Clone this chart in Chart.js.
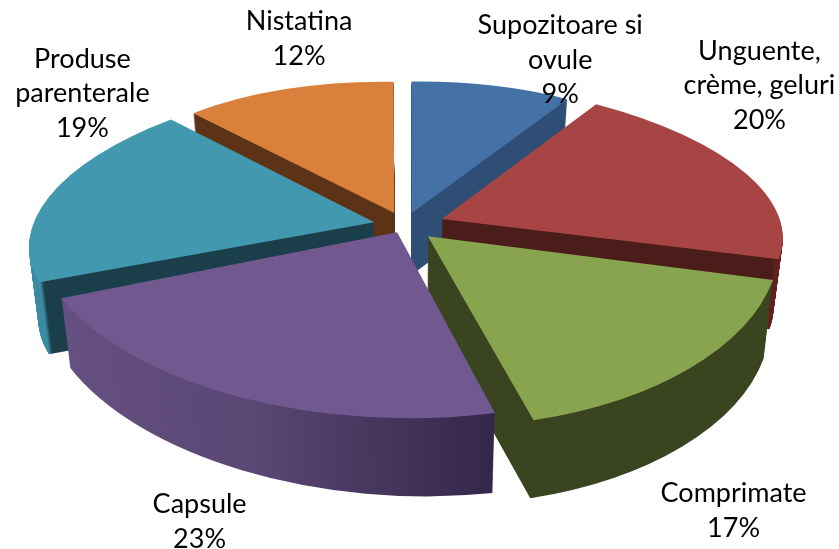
<!DOCTYPE html>
<html>
<head>
<meta charset="utf-8">
<style>
  html, body { margin: 0; background: #fff; }
  canvas { display: block; }
</style>
<script src="https://cdn.jsdelivr.net/npm/chart.js@4"></script>
</head>
<body>
<canvas id="myChart" width="839" height="549"></canvas>
<script>
const categories = [['Supozitoare si', 'ovule'], ['Unguente,', 'crème, geluri'], ['Comprimate'], ['Capsule'], ['Produse', 'parenterale'], ['Nistatina']]
const percents = [9, 20, 17, 23, 19, 12]

// Chart.js moves an arc by offset / 4
const explode = [112, 148, 108, 56, 112, 116]
const topColors = ['#4472a6', '#a64543', '#88a44f', '#71588f', '#4198af', '#d9803c']
const wallStops = [
  [[0, '#2f4e75'], [1, '#2f4e75']],
  [[0, '#4a1c1a'], [0.98, '#4a1c1a'], [0.985, '#651f1f'], [1, '#651f1f']],
  [[0, '#38421f'], [1, '#3a4520']],
  [[0, '#675184'], [0.3, '#594672'], [0.625, '#33274a'], [1, '#33274a']],
  [[0, '#3a8aa3'], [0.032, '#3a8aa3'], [0.037, '#1a3f4a'], [1, '#1a3f4a']],
  [[0, '#5c3317'], [1, '#5c3317']],
]

// per slice tilt, a fake of the perspective in the 3D original: scaleX, skewY, skewX, scaleY
const tilts = [
  [0.95, -0.015, 0.007, 0.42],
  [1.125, 0.02, 0.109, 0.463],
  [1.16, -0.014, 0.06, 0.63],
  [1.213, 0.009, 0.025, 0.62],
  [1.135, -0.022, -0.143, 0.487],
  [0.958, 0.017, -0.002, 0.424],
]
const depths = [62, 70, 78, 78, 72, 60]
// extra skewY reached at the bottom of the wall, the side walls get shorter away from the viewer
const wallTilts = [0, 0, 0, 0.03, 0, 0]
const drawOrder = [0, 5, 1, 4, 2, 3]
const labelNudges = [[71, -31], [16, -88], [47, 144], [-39, 125], [31, -103], [10, -54]]
const lineHeight = 34.5

function drawSlice(ctx, arc, i, drop, color) {
  const [sx, skY, skX, sy] = tilts[i]
  const t = drop / depths[i]
  const narrow = 1 - 0.025 * t
  const saved = arc.options
  arc.options = { ...saved, backgroundColor: color }
  ctx.save()
  ctx.translate(arc.x, arc.y + drop)
  ctx.transform(sx * narrow, skY + wallTilts[i] * t, skX * narrow, sy, 0, 0)
  ctx.translate(-arc.x, -arc.y)
  arc.draw(ctx)
  ctx.restore()
  arc.options = saved
}

const pie3d = {
  id: 'pie3d',
  beforeDatasetsDraw(chart) {
    const ctx = chart.ctx
    const arcs = chart.getDatasetMeta(0).data
    drawOrder.forEach(i => {
      const arc = arcs[i]
      const wall = ctx.createLinearGradient(arc.x - arc.outerRadius, 0, arc.x + arc.outerRadius, 0)
      wallStops[i].forEach(s => wall.addColorStop(s[0], s[1]))
      for (let d = depths[i]; d > 0; d--) drawSlice(ctx, arc, i, d, wall)
      drawSlice(ctx, arc, i, 0, topColors[i])
    })
    return false
  },
  afterDraw(chart) {
    const ctx = chart.ctx
    const arcs = chart.getDatasetMeta(0).data
    ctx.save()
    ctx.font = '27px Lato'
    ctx.fillStyle = '#000'
    ctx.textAlign = 'center'
    ctx.textBaseline = 'middle'
    arcs.forEach((arc, i) => {
      const [sx, skY, skX, sy] = tilts[i]
      const mid = (arc.startAngle + arc.endAngle) / 2
      const reach = arc.outerRadius + explode[i] / 4
      const X = Math.cos(mid) * reach
      const Y = Math.sin(mid) * reach
      const lines = categories[i].concat(percents[i] + '%')
      const x = arc.x + sx * X + skX * Y + labelNudges[i][0]
      const y = arc.y + skY * X + sy * Y + labelNudges[i][1] - (lines.length - 1) * lineHeight / 2
      lines.forEach((line, n) => ctx.fillText(line, x, y + n * lineHeight))
    })
    ctx.restore()
  },
}

new Chart(document.getElementById('myChart').getContext('2d'), {
  type: 'pie',
  data: {
    labels: categories,
    datasets: [
      {
        data: percents,
        backgroundColor: topColors,
        offset: explode,
        borderWidth: 0,
      },
    ],
  },
  options: {
    responsive: false,
    animation: false,
    radius: 300,
    layout: { padding: { right: 30, bottom: 100 } },
    plugins: { legend: { display: false }, tooltip: { enabled: false } },
  },
  plugins: [pie3d],
})
</script>
</body>
</html>
